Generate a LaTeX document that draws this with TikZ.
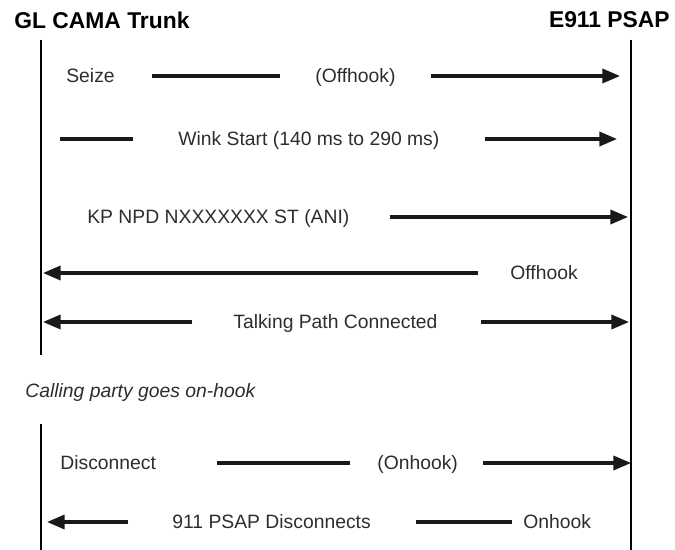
\documentclass[tikz,border=0pt]{standalone}
\usepackage{fontspec}
\setmainfont{Liberation Sans}
\usepackage{tikz}
\usetikzlibrary{arrows.meta, positioning, calc}
\definecolor{msggray}{RGB}{45,45,45}
\tikzset{
  %% ---- texts ----
  party/.style   = {inner sep=0pt, font=\fontsize{13}{15}\selectfont\bfseries},
  msgtext/.style = {inner sep=0pt, anchor=west, text=msggray,
                    text height=7.6pt, text depth=0pt,
                    font=\fontsize{11}{13}\selectfont},
  notetext/.style= {msgtext, font=\fontsize{11}{13}\selectfont\itshape},
  %% ---- lines ----
  lifeline/.style = {line width=1.6pt, black},
  msgline/.style  = {line width=1.8pt, black!90},
  msgarrow/.style = {msgline, -{Triangle[length=10pt, width=8pt]}},
}

\begin{document}
\begin{tikzpicture}[x=0.02cm, y=-0.02cm]
  \useasboundingbox (0,0) rectangle (675,550);

  %% Parties
  \node[party, anchor=west] (trunk) at (14,20) {GL CAMA Trunk};
  \node[party, anchor=east] (psap)  at (670,20) {E911 PSAP};

  %% Lifelines
  \coordinate (trunktop) at (41,40);
  \coordinate (trunkcut) at (41,355);
  \coordinate (trunkgo)  at (41,424);
  \coordinate (trunkend) at (41,550);
  \coordinate (psaptop)  at (631,40);
  \coordinate (psapend)  at (631,550);
  \draw[lifeline] (trunktop) -- (trunkcut);
  \draw[lifeline] (trunkgo) -- (trunkend);
  \draw[lifeline] (psaptop) -- (psapend);

  %% Seize
  \node[msgtext] (seize)    at (66,76)  {Seize};
  \node[msgtext] (offhookA) at (315,76) {(Offhook)};
  \coordinate (psapA) at (631,76);
  \draw[msgline, shorten <=0.74cm, shorten >=0.7cm] (seize) -- (offhookA);
  \draw[msgarrow, shorten <=0.7cm, shorten >=0.22cm] (offhookA) -- (psapA);

  %% Wink start
  \node[msgtext] (wink) at (178,139) {Wink Start (140 ms to 290 ms)};
  \coordinate (trunkB) at (41,139);
  \coordinate (psapB)  at (631,139);
  \draw[msgline, shorten <=0.38cm, shorten >=0.9cm] (trunkB) -- (wink);
  \draw[msgarrow, shorten <=0.9cm, shorten >=0.28cm] (wink) -- (psapB);

  %% ANI digits
  \node[msgtext] (ani) at (87,217) {KP NPD NXXXXXXX ST (ANI)};
  \coordinate (psapC) at (631,217);
  \draw[msgarrow, shorten <=0.8cm, shorten >=0.06cm] (ani) -- (psapC);

  %% Answer
  \node[msgtext] (offhookB) at (510,273) {Offhook};
  \coordinate (trunkD) at (41,273);
  \draw[msgarrow, shorten <=0.64cm, shorten >=0.04cm] (offhookB) -- (trunkD);

  %% Talking path
  \node[msgtext] (talk) at (233,322) {Talking Path Connected};
  \coordinate (trunkE) at (41,322);
  \coordinate (psapE)  at (631,322);
  \draw[msgarrow, shorten <=0.82cm, shorten >=0.04cm] (talk) -- (trunkE);
  \draw[msgarrow, shorten <=0.86cm, shorten >=0.04cm] (talk) -- (psapE);

  %% On-hook note
  \node[notetext] (note) at (25,391) {Calling party goes on-hook};

  %% Disconnect
  \node[msgtext] (disc)    at (60,463)  {Disconnect};
  \node[msgtext] (onhookA) at (377,463) {(Onhook)};
  \coordinate (psapF) at (631,463);
  \draw[msgline, shorten <=1.22cm, shorten >=0.54cm] (disc) -- (onhookA);
  \draw[msgarrow, shorten <=0.5cm] (onhookA) -- (psapF);

  %% PSAP disconnects
  \node[msgtext] (psapdisc) at (172,522) {911 PSAP Disconnects};
  \node[msgtext] (onhookB)  at (523,522) {Onhook};
  \coordinate (trunkG) at (41,522);
  \draw[msgarrow, shorten <=0.88cm, shorten >=0.12cm] (psapdisc) -- (trunkG);
  \draw[msgline, shorten <=0.9cm, shorten >=0.22cm] (psapdisc) -- (onhookB);

\end{tikzpicture}
\end{document}
